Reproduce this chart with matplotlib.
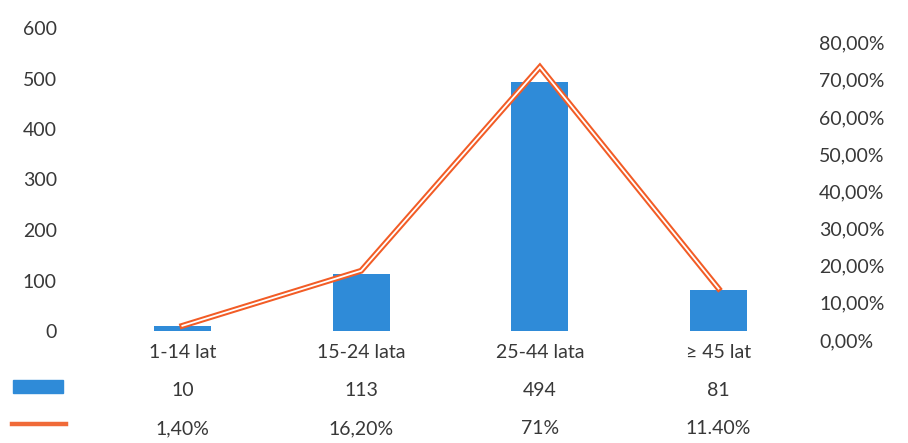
import matplotlib.pyplot as plt
import matplotlib.transforms as mtransforms

# ── Data ─────────────────────────────────────────────────────────────────────
categories = ["1-14 lat", "15-24 lata", "25-44 lata", "\u2265 45 lat"]
counts = [10, 113, 494, 81]
shares = [0.014, 0.162, 0.71, 0.114]
count_labels = ["10", "113", "494", "81"]
share_labels = ["1,40%", "16,20%", "71%", "11.40%"]

left_ticks = [0, 100, 200, 300, 400, 500, 600]
right_ticks = [0.0, 0.1, 0.2, 0.3, 0.4, 0.5, 0.6, 0.7, 0.8]
right_tick_labels = ["0,00%", "10,00%", "20,00%", "30,00%", "40,00%",
                     "50,00%", "60,00%", "70,00%", "80,00%"]

# ── Style ────────────────────────────────────────────────────────────────────
plt.rcParams["font.family"] = ["Lato", "DejaVu Sans"]
text_color = "#383838"
bar_color = "#2f8bd8"
line_color = "#f25c26"
fs = 14

W, H = 908, 443
fig = plt.figure(figsize=(W / 100, H / 100), dpi=100)
fig.patch.set_facecolor("white")

# plot area in pixels (from top-left)
x0, x1 = 93, 808
y_top, y_bot = 28, 331
ax = fig.add_axes([x0 / W, 1 - y_bot / H, (x1 - x0) / W, (y_bot - y_top) / H])
ax2 = ax.twinx()

xs = list(range(len(categories)))
ax.bar(xs, counts, width=0.32, color=bar_color, zorder=2)
ax.set_xlim(-0.5, len(categories) - 0.5)
ax.set_ylim(0, 600)
ax.set_yticks(left_ticks)

# double orange line
ax2.plot(xs, shares, color=line_color, linewidth=4.2, solid_joinstyle="miter", zorder=3)
ax2.plot(xs, shares, color="white", linewidth=1.3, solid_joinstyle="miter", zorder=4)
ax2.set_ylim(0, 0.815)
ax2.set_yticks(right_ticks)
ax2.set_yticklabels(right_tick_labels)

for a in (ax, ax2):
    for s in a.spines.values():
        s.set_visible(False)
    a.tick_params(length=0, labelsize=fs, labelcolor=text_color)
ax.set_xticks([])
ax.tick_params(axis="y", pad=26)
ax2.tick_params(axis="y", pad=8)

# right labels sit a little lower than the left ones
shift = mtransforms.ScaledTranslation(0, -9 / 100, fig.dpi_scale_trans)
for lbl in ax2.get_yticklabels():
    lbl.set_transform(lbl.get_transform() + shift)

# ── Data table ───────────────────────────────────────────────────────────────
trans = mtransforms.blended_transform_factory(ax.transData, fig.transFigure)
row_y = [1 - 353 / H, 1 - 390 / H, 1 - 429 / H]
for i in xs:
    ax.text(i, row_y[0], categories[i], transform=trans, ha="center", va="center",
            fontsize=fs, color=text_color)
    ax.text(i, row_y[1], count_labels[i], transform=trans, ha="center", va="center",
            fontsize=fs, color=text_color)
    ax.text(i, row_y[2], share_labels[i], transform=trans, ha="center", va="center",
            fontsize=fs, color=text_color)

# legend keys
fig.patches.append(plt.Rectangle((13 / W, 1 - 393 / H), 50 / W, 13 / H,
                                 transform=fig.transFigure, color=bar_color))
fig.lines.append(plt.Line2D([12 / W, 66 / W], [1 - 424 / H, 1 - 424 / H],
                            transform=fig.transFigure, color="#f06a38", linewidth=3.2))

fig.savefig("out.png", dpi=100)
